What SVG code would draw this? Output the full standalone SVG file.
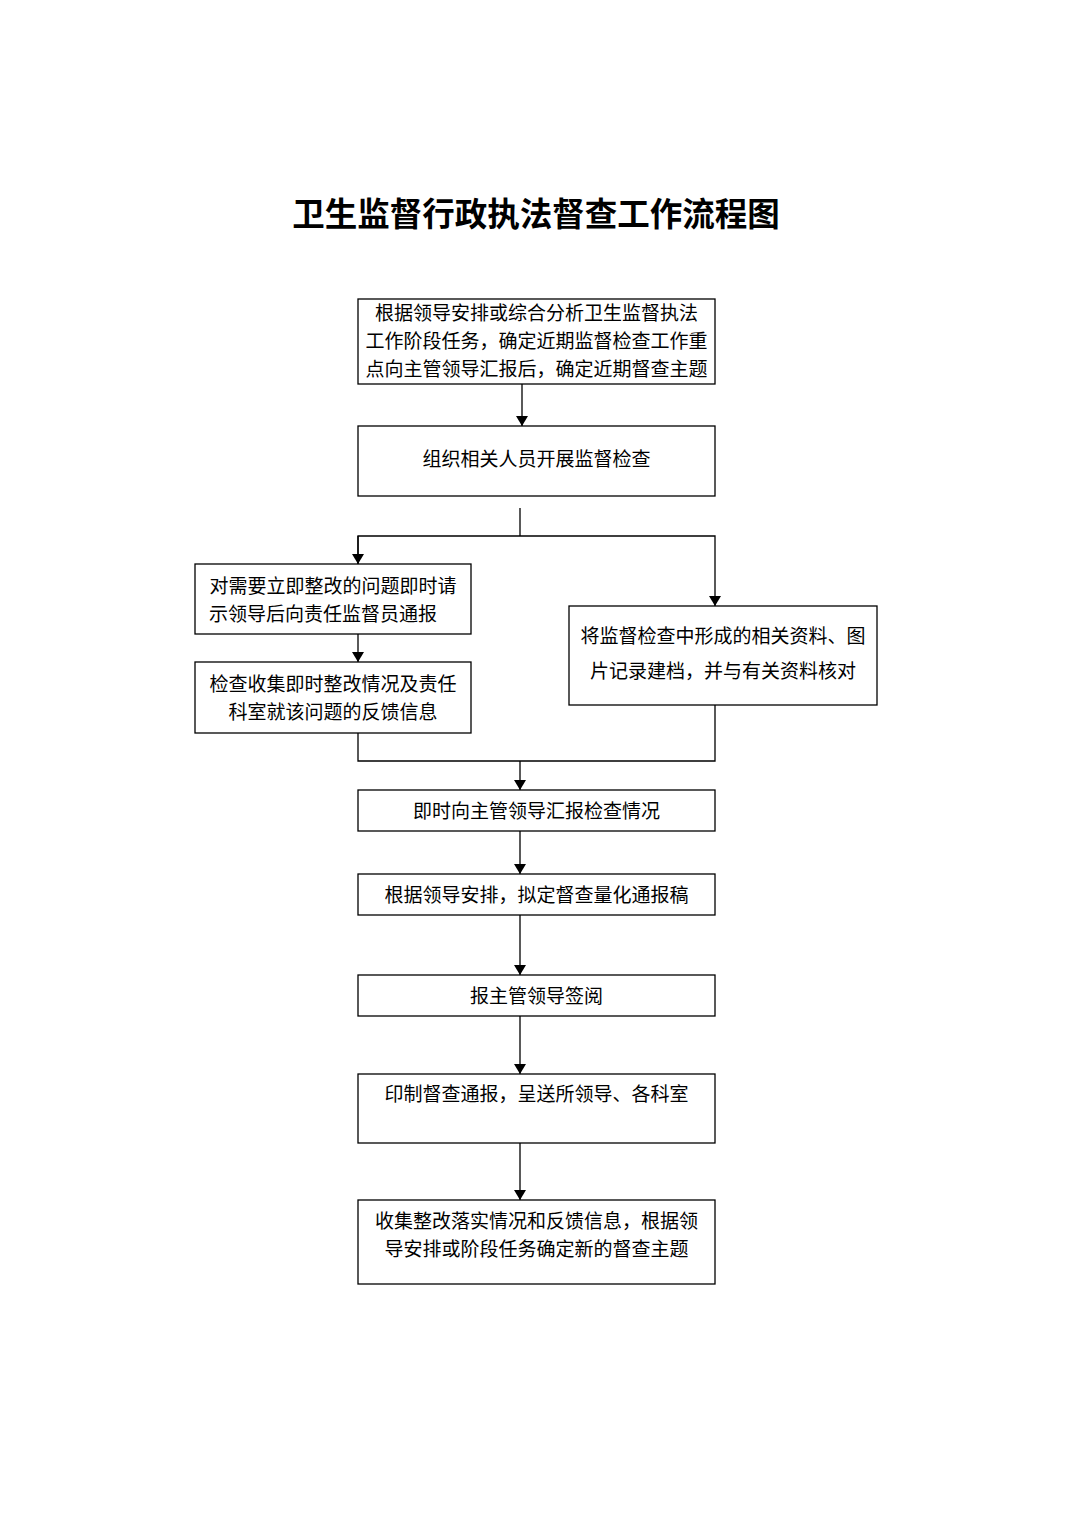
<svg xmlns="http://www.w3.org/2000/svg" width="1074" height="1520" viewBox="0 0 1074 1520">
<style>
.box{fill:#fff;stroke:#000;stroke-width:1.3}
.t{font-family:"Liberation Serif","Noto Sans CJK SC",serif;font-size:19px;fill:#000;text-anchor:middle}
.tl{text-anchor:start}
.title{font-family:"Liberation Serif","Noto Sans CJK SC",serif;font-size:32.5px;font-weight:bold;fill:#000;text-anchor:middle}
.c{fill:none;stroke:#000;stroke-width:1.3}
</style>
<defs>
<marker id="ah" viewBox="0 0 10 12" refX="10" refY="6" markerWidth="10" markerHeight="12" markerUnits="userSpaceOnUse" orient="auto">
<path d="M0,0 L10,6 L0,12 Z" fill="#000"/>
</marker>
</defs>
<rect width="1074" height="1520" fill="#fff"/>
<text class="title" x="536" y="226">卫生监督行政执法督查工作流程图</text>
<g id="connectors">
<line class="c" x1="522" y1="384" x2="522" y2="426" marker-end="url(#ah)"/>
<line class="c" x1="520" y1="508" x2="520" y2="536"/>
<polyline class="c" points="358,568 358,536 715,536 715,606" marker-end="url(#ah)"/>
<line class="c" x1="358" y1="536" x2="358" y2="564" marker-end="url(#ah)"/>
<line class="c" x1="358" y1="634" x2="358" y2="662" marker-end="url(#ah)"/>
<polyline class="c" points="358,733 358,761 715,761 715,705"/>
<line class="c" x1="520" y1="761" x2="520" y2="790" marker-end="url(#ah)"/>
<line class="c" x1="520" y1="831" x2="520" y2="874" marker-end="url(#ah)"/>
<line class="c" x1="520" y1="915" x2="520" y2="975" marker-end="url(#ah)"/>
<line class="c" x1="520" y1="1016" x2="520" y2="1074" marker-end="url(#ah)"/>
<line class="c" x1="520" y1="1143" x2="520" y2="1200" marker-end="url(#ah)"/>
</g>
<g id="n1"><rect class="box" x="358" y="299" width="357" height="85"/>
<text class="t" x="536.5" y="320">根据领导安排或综合分析卫生监督执法</text>
<text class="t" x="536.5" y="348">工作阶段任务，确定近期监督检查工作重</text>
<text class="t" x="536.5" y="376">点向主管领导汇报后，确定近期督查主题</text></g>
<g id="n2"><rect class="box" x="358" y="426" width="357" height="70"/>
<text class="t" x="536.5" y="466">组织相关人员开展监督检查</text></g>
<g id="n3"><rect class="box" x="195" y="564" width="276" height="70"/>
<text class="t" x="333" y="593">对需要立即整改的问题即时请</text>
<text class="t tl" x="209" y="621">示领导后向责任监督员通报</text></g>
<g id="n4"><rect class="box" x="195" y="662" width="276" height="71"/>
<text class="t" x="333" y="691">检查收集即时整改情况及责任</text>
<text class="t" x="333" y="719">科室就该问题的反馈信息</text></g>
<g id="n5"><rect class="box" x="569" y="606" width="308" height="99"/>
<text class="t" x="723" y="643">将监督检查中形成的相关资料、图</text>
<text class="t" x="723" y="678">片记录建档，并与有关资料核对</text></g>
<g id="n6"><rect class="box" x="358" y="790" width="357" height="41"/>
<text class="t" x="536.5" y="818">即时向主管领导汇报检查情况</text></g>
<g id="n7"><rect class="box" x="358" y="874" width="357" height="41"/>
<text class="t" x="536.5" y="902">根据领导安排，拟定督查量化通报稿</text></g>
<g id="n8"><rect class="box" x="358" y="975" width="357" height="41"/>
<text class="t" x="536.5" y="1003">报主管领导签阅</text></g>
<g id="n9"><rect class="box" x="358" y="1074" width="357" height="69"/>
<text class="t" x="536.5" y="1101">印制督查通报，呈送所领导、各科室</text></g>
<g id="n10"><rect class="box" x="358" y="1200" width="357" height="84"/>
<text class="t" x="536.5" y="1228">收集整改落实情况和反馈信息，根据领</text>
<text class="t" x="536.5" y="1256">导安排或阶段任务确定新的督查主题</text></g>
</svg>
